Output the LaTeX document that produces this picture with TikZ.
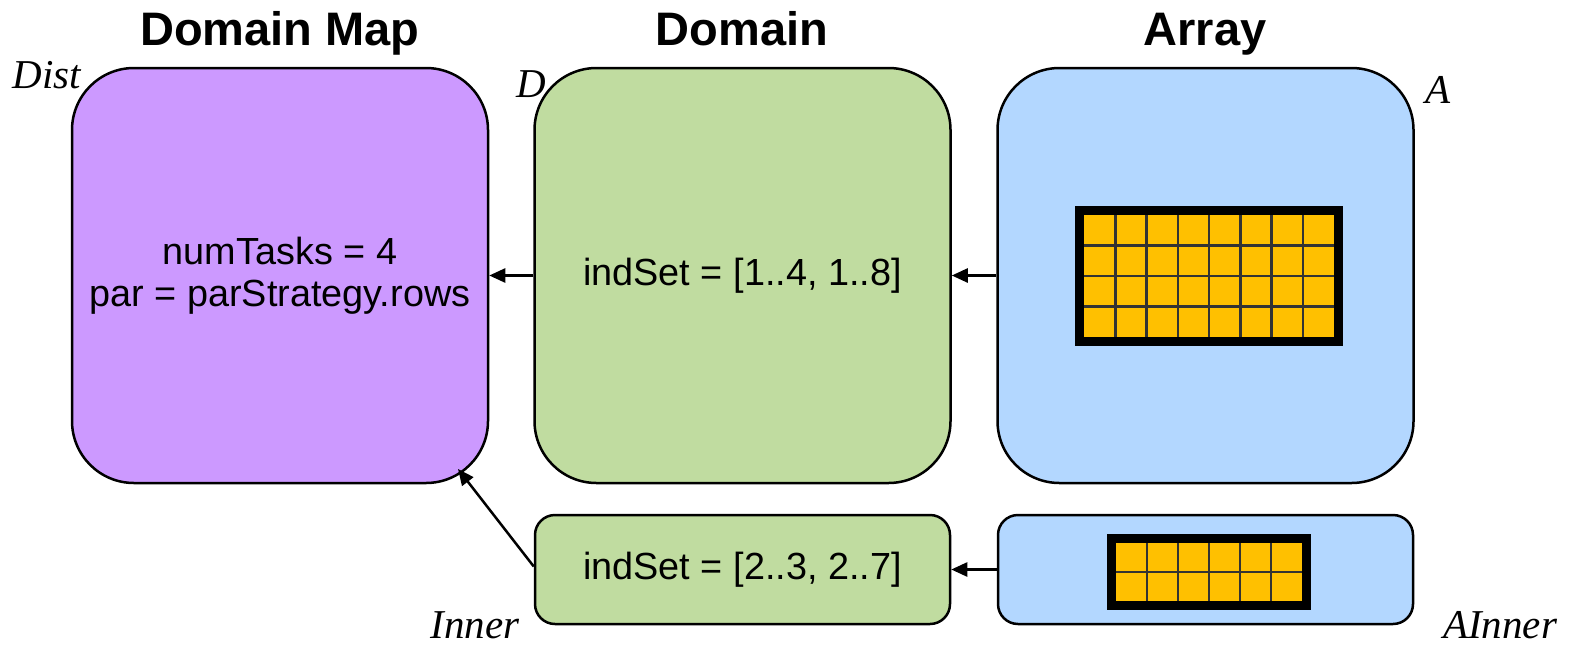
\documentclass[tikz,border=0pt]{standalone}
\usepackage{fontspec}
\setmainfont{Liberation Sans}
\newfontfamily\lblfont{Liberation Serif}
\usetikzlibrary{arrows.meta}
\definecolor{dmpurple}{HTML}{CC99FF}
\definecolor{domgreen}{HTML}{C0DCA0}
\definecolor{arrblue}{HTML}{B3D7FF}
\definecolor{cellorange}{HTML}{FFC000}
\tikzset{
  bigbox/.style={draw=black, line width=2.5pt, rounded corners=62pt, minimum width=416pt, minimum height=415pt, inner sep=0pt, align=center, font=\fontsize{37.8}{42}\selectfont},
  smallbox/.style={draw=black, line width=2.5pt, rounded corners=20pt, minimum width=415pt, minimum height=109pt, inner sep=0pt, align=center, font=\fontsize{37.8}{42}\selectfont},
  titletext/.style={font=\fontsize{47}{52}\selectfont\bfseries, inner sep=0pt, anchor=base},
  lbltext/.style={font=\fontsize{41}{44}\lblfont\itshape, inner sep=0pt},
  arr/.style={draw=black, line width=2.5pt, -{Triangle[length=16pt,width=14pt]}},
  gridouter/.style={draw=black, line width=6pt, fill=cellorange, inner sep=0pt},
  cellline/.style={draw=black!80, line width=2.5pt}
}
\begin{document}
\begin{tikzpicture}[x=1pt,y=-1pt]
\useasboundingbox (0,0) rectangle (1573,645);
% titles
\node[titletext] (t1) at (280,45) {Domain Map};
\node[titletext] (t2) at (742,45) {Domain};
\node[titletext] (t3) at (1205,45) {Array};
% big boxes
\node[bigbox, fill=dmpurple] (dm) at (280,275.5) {numTasks = 4\\par = parStrategy.rows};
\node[bigbox, fill=domgreen] (dom) at (742.5,275.5) {indSet = [1..4, 1..8]};
\node[bigbox, fill=arrblue] (arr) at (1205.5,275.5) {};
% small boxes
\node[smallbox, fill=domgreen] (inner) at (742.5,569.5) {indSet = [2..3, 2..7]};
\node[smallbox, fill=arrblue] (ainner) at (1205.5,569.5) {};
% labels
\node[lbltext] (ldist) at (47,75) {Dist};
\node[lbltext] (ld) at (531,84) {D};
\node[lbltext] (la) at (1438,90) {A};
\node[lbltext] (linner) at (475,625) {Inner};
\node[lbltext] (lainner) at (1500,625) {AInner};
% arrows
\draw[arr] (dom.west) -- (dm.east);
\draw[arr] (arr.west) -- (dom.east);
\draw[arr] (ainner.west) -- (inner.east);
\coordinate (dmtip) at (458,469);
\draw[arr] ([yshift=3pt]inner.west) -- (dmtip);
% big grid
\node[gridouter, minimum width=256pt, minimum height=128pt] (grid) at (1209,276) {};
\foreach \i in {1,...,7} \draw[cellline] (1084+31.25*\i,215) -- (1084+31.25*\i,337);
\foreach \j in {1,...,3} \draw[cellline] (1084,215+30.5*\j) -- (1334,215+30.5*\j);
\draw[black, line width=6pt] (grid.north west) rectangle (grid.south east);
% small grid
\node[gridouter, minimum width=192pt, minimum height=64pt] (sgrid) at (1209,572) {};
\foreach \i in {1,...,5} \draw[cellline] (1116+31*\i,543) -- (1116+31*\i,601);
\draw[cellline] (1116,572) -- (1302,572);
\draw[black, line width=6pt] (sgrid.north west) rectangle (sgrid.south east);
\end{tikzpicture}
\end{document}
